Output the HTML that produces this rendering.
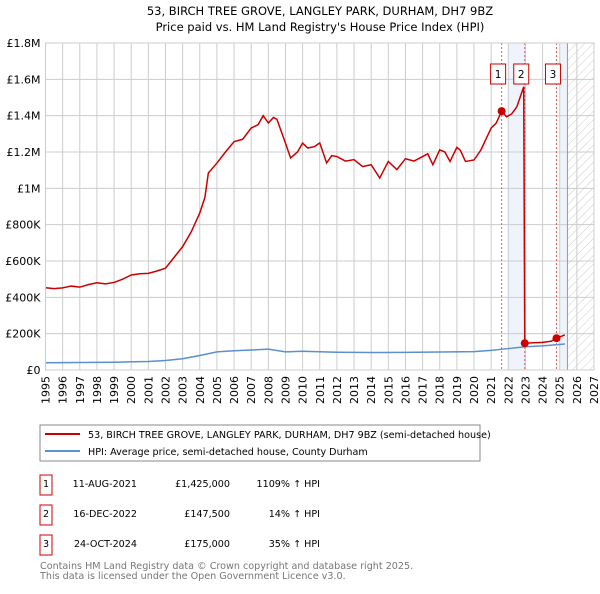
<!DOCTYPE html>
<html><head><meta charset="utf-8"><style>
body{margin:0;background:#fff;font-family:"DejaVu Sans","Liberation Sans",sans-serif;}
svg text{font-family:"DejaVu Sans","Liberation Sans",sans-serif;}
</style></head><body>
<svg id="c" width="600" height="590" xmlns="http://www.w3.org/2000/svg">
<defs><pattern id="hatch" width="6" height="6" patternUnits="userSpaceOnUse" patternTransform="rotate(45)"><line x1="0" y1="0" x2="0" y2="6" stroke="#ccc" stroke-width="1"/></pattern></defs>
<text x="320" y="15" text-anchor="middle" font-size="11.5">53, BIRCH TREE GROVE, LANGLEY PARK, DURHAM, DH7 9BZ</text>
<text x="320" y="31" text-anchor="middle" font-size="11.5">Price paid vs. HM Land Registry's House Price Index (HPI)</text>
<g id="plot"></g>
<rect x="40" y="425" width="440" height="36" fill="#fff" stroke="#888"/>
<line x1="45" y1="434" x2="80" y2="434" stroke="#cc0000" stroke-width="2"/>
<text x="88" y="438" font-size="9.6">53, BIRCH TREE GROVE, LANGLEY PARK, DURHAM, DH7 9BZ (semi-detached house)</text>
<line x1="45" y1="451" x2="80" y2="451" stroke="#5b8fd0" stroke-width="2"/>
<text x="88" y="455" font-size="9.6">HPI: Average price, semi-detached house, County Durham</text>
<g font-size="9.6">
<rect x="40" y="475" width="12" height="20" fill="none" stroke="#cc0000"/><text x="46" y="487" text-anchor="middle">1</text>
<text x="137" y="487" text-anchor="end">11-AUG-2021</text><text x="230" y="487" text-anchor="end">£1,425,000</text><text x="320" y="487" text-anchor="end">1109% ↑ HPI</text>
<rect x="40" y="505" width="12" height="20" fill="none" stroke="#cc0000"/><text x="46" y="517" text-anchor="middle">2</text>
<text x="137" y="517" text-anchor="end">16-DEC-2022</text><text x="230" y="517" text-anchor="end">£147,500</text><text x="320" y="517" text-anchor="end">14% ↑ HPI</text>
<rect x="40" y="535" width="12" height="20" fill="none" stroke="#cc0000"/><text x="46" y="547" text-anchor="middle">3</text>
<text x="137" y="547" text-anchor="end">24-OCT-2024</text><text x="230" y="547" text-anchor="end">£175,000</text><text x="320" y="547" text-anchor="end">35% ↑ HPI</text>
</g>
<text x="40" y="569" font-size="9.6" fill="#777">Contains HM Land Registry data © Crown copyright and database right 2025.</text>
<text x="40" y="579" font-size="9.6" fill="#777">This data is licensed under the Open Government Licence v3.0.</text>
</svg>
<script>
const yTicks=[0,200,400,600,800,1000,1200,1400,1600,1800];
const yTickLabels=["£0","£200K","£400K","£600K","£800K","£1M","£1.2M","£1.4M","£1.6M","£1.8M"];
const xYears=[1995,1996,1997,1998,1999,2000,2001,2002,2003,2004,2005,2006,2007,2008,2009,2010,2011,2012,2013,2014,2015,2016,2017,2018,2019,2020,2021,2022,2023,2024,2025,2026,2027];
const priceT=[1995,1995.5,1996,1996.5,1997,1997.5,1998,1998.5,1999,1999.5,2000,2000.5,2001,2001.5,2002,2002.5,2003,2003.5,2004,2004.3,2004.5,2005,2005.5,2006,2006.5,2007,2007.4,2007.7,2008,2008.3,2008.5,2009,2009.3,2009.7,2010,2010.3,2010.7,2011,2011.4,2011.7,2012,2012.5,2013,2013.5,2014,2014.5,2015,2015.5,2016,2016.5,2017,2017.3,2017.6,2018,2018.3,2018.6,2019,2019.2,2019.5,2020,2020.4,2021,2021.3,2021.61,2021.9,2022.2,2022.5,2022.9,2022.96,2023.5,2024,2024.5,2024.81,2025.3];
const priceV=[453,448,452,462,456,470,480,474,482,500,523,530,532,545,560,620,679,760,864,950,1084,1139,1200,1257,1270,1332,1350,1400,1360,1390,1380,1249,1167,1200,1249,1222,1230,1250,1140,1180,1175,1150,1158,1120,1130,1057,1148,1103,1163,1150,1175,1190,1130,1212,1200,1148,1226,1210,1148,1156,1211,1332,1360,1425,1394,1410,1449,1559,147.5,150,152,158,175,193];
const hpiT=[1995,1997,1999,2001,2002,2003,2004,2005,2006,2007,2008,2009,2010,2012,2014,2016,2018,2020,2021,2022,2023,2024,2025.3];
const hpiV=[40,41,43,47,52,62,80,100,106,110,115,100,103,98,96,97,99,101,108,118,128,133,143];
const saleT=[2021.61,2022.96,2024.81];
const saleV=[1425,147.5,175];
const saleLabels=["1","2","3"];
const X0=45.5,X1=594,Y0=370,Y1=43;
const xs=t=>X0+(t-1995)*(X1-X0)/32;
const ys=v=>Y0-v*(Y0-Y1)/1800;
const NS="http://www.w3.org/2000/svg";
const g=document.getElementById('plot');
function mk(tag,attrs,parent){const e=document.createElementNS(NS,tag);for(const k in attrs)e.setAttribute(k,attrs[k]);(parent||g).appendChild(e);return e;}
let r=mk('rect',{x:xs(2022),y:Y1,width:xs(2023)-xs(2022),height:Y0-Y1,fill:'#eef3fc'});


r=mk('rect',{x:xs(2025),y:Y1,width:xs(2025.45)-xs(2025),height:Y0-Y1,fill:'#eef3fc'});


r=mk('rect',{x:xs(2025.45),y:Y1,width:X1-xs(2025.45),height:Y0-Y1,fill:'url(#hatch)'});


xYears.forEach(y=>{const l=mk('line',{x1:xs(y),x2:xs(y),y1:Y1,y2:Y0,stroke:'#ccc'});


const tx=xs(y)+4, ty=376;
const t=mk('text',{x:tx,y:ty,'text-anchor':'end','font-size':'11',transform:'rotate(-90 '+tx+' '+ty+')'});t.textContent=y;

});
yTicks.forEach((v,i)=>{const l=mk('line',{x1:X0,x2:X1,y1:ys(v),y2:ys(v),stroke:'#ccc'});


const t=mk('text',{x:X0-5,y:ys(v)+4,'text-anchor':'end','font-size':'11'});t.textContent=yTickLabels[i];

});
r=mk('line',{x1:xs(2025.45),x2:xs(2025.45),y1:Y1,y2:Y0,stroke:'#999'});


saleT.forEach((t,i)=>{const l=mk('line',{x1:xs(t),x2:xs(t),y1:Y1,y2:Y0,stroke:'#e06060','stroke-dasharray':'2,2'});


const b=mk('rect',{x:xs(t)-11,y:64,width:15,height:20,fill:'#fff',stroke:'#cc0000'});


const tx=mk('text',{x:xs(t)-3.5,y:78,'text-anchor':'middle','font-size':'10.5'});tx.textContent=saleLabels[i];

});
const hp=mk('polyline',{points:hpiT.map((t,i)=>xs(t)+','+ys(hpiV[i])).join(' '),fill:'none',stroke:'#5b8fd0','stroke-width':1.5});


const pp=mk('polyline',{points:priceT.map((t,i)=>xs(t)+','+ys(priceV[i])).join(' '),fill:'none',stroke:'#cc0000','stroke-width':1.5});


saleT.forEach((t,i)=>{const c=mk('circle',{cx:xs(t),cy:ys(saleV[i]),r:4,fill:'#cc0000'});

});
r=mk('rect',{x:X0,y:Y1,width:X1-X0,height:Y0-Y1,fill:'none',stroke:'#ccc'});


</script>
</body></html>
